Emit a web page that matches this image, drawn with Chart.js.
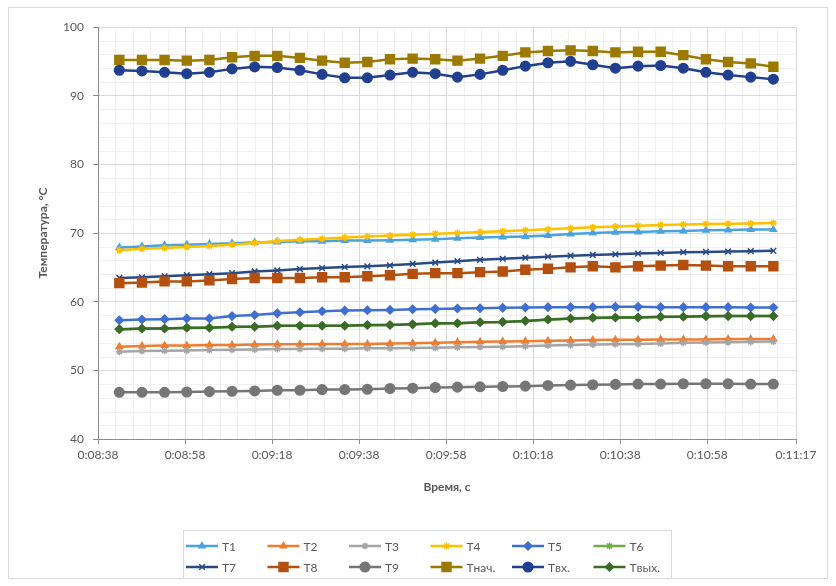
<!DOCTYPE html>
<html>
<head>
<meta charset="utf-8">
<script src="https://cdn.jsdelivr.net/npm/chart.js@4.4.0/dist/chart.umd.min.js"></script>
<style>
  html, body { margin: 0; padding: 0; background: #fff; }
</style>
</head>
<body>
<canvas id="line_chart" width="836" height="586"></canvas>
<script>
// time of each reading, seconds (0:08:42.9 ... 0:11:13.2)
let times = [522.9, 528.1, 533.3, 538.4, 543.6, 548.8, 554.0, 559.2, 564.4, 569.5,
             574.7, 579.9, 585.1, 590.3, 595.5, 600.6, 605.8, 611.0, 616.2, 621.4,
             626.6, 631.7, 636.9, 642.1, 647.3, 652.5, 657.7, 662.8, 668.0, 673.2];

let tickValues = [518, 538, 558, 578, 598, 618, 638, 658, 678.4];
let tickLabels = ['0:08:38', '0:08:58', '0:09:18', '0:09:38', '0:09:58', '0:10:18', '0:10:38', '0:10:58', '0:11:17'];

let t1 = [67.9, 68.05, 68.2, 68.3, 68.4, 68.5, 68.6, 68.7, 68.8, 68.8, 68.9, 68.9, 68.95, 69.0, 69.1,
          69.25, 69.35, 69.4, 69.5, 69.65, 69.85, 70.0, 70.1, 70.15, 70.25, 70.3, 70.4, 70.45, 70.5, 70.5];
let t2 = [53.45, 53.55, 53.6, 53.6, 53.7, 53.7, 53.75, 53.8, 53.8, 53.85, 53.85, 53.85, 53.9, 53.95, 54.0,
          54.1, 54.15, 54.2, 54.25, 54.3, 54.35, 54.4, 54.45, 54.45, 54.5, 54.5, 54.5, 54.55, 54.55, 54.55];
let t3 = [52.7, 52.8, 52.85, 52.9, 52.95, 53.0, 53.05, 53.1, 53.1, 53.15, 53.15, 53.2, 53.2, 53.25, 53.3,
          53.35, 53.4, 53.45, 53.5, 53.6, 53.7, 53.75, 53.8, 53.85, 53.9, 54.0, 54.05, 54.1, 54.15, 54.2];
let t4 = [67.5, 67.7, 67.8, 67.95, 68.1, 68.3, 68.55, 68.85, 69.0, 69.15, 69.35, 69.5, 69.65, 69.75, 69.9,
          70.0, 70.15, 70.25, 70.4, 70.55, 70.7, 70.85, 70.95, 71.05, 71.15, 71.25, 71.3, 71.35, 71.4, 71.45];
let t5 = [57.3, 57.4, 57.45, 57.55, 57.55, 57.9, 58.05, 58.3, 58.45, 58.6, 58.7, 58.75, 58.8, 58.9, 58.95,
          59.0, 59.05, 59.1, 59.15, 59.2, 59.2, 59.2, 59.25, 59.25, 59.2, 59.2, 59.2, 59.2, 59.15, 59.15];
let t6 = [55.95, 56.05, 56.1, 56.15, 56.2, 56.3, 56.35, 56.45, 56.5, 56.5, 56.5, 56.55, 56.6, 56.7, 56.8,
          56.85, 56.95, 57.05, 57.2, 57.35, 57.5, 57.6, 57.7, 57.7, 57.75, 57.8, 57.85, 57.9, 57.9, 57.9];
let t7 = [63.45, 63.55, 63.7, 63.85, 64.0, 64.15, 64.4, 64.55, 64.75, 64.9, 65.05, 65.15, 65.3, 65.5, 65.7,
          65.9, 66.1, 66.25, 66.4, 66.55, 66.7, 66.8, 66.9, 67.0, 67.1, 67.2, 67.25, 67.3, 67.35, 67.4];
let t8 = [62.7, 62.8, 62.95, 62.95, 63.1, 63.3, 63.45, 63.45, 63.45, 63.55, 63.55, 63.7, 63.85, 64.05, 64.15,
          64.15, 64.3, 64.4, 64.65, 64.8, 65.0, 65.15, 65.0, 65.15, 65.25, 65.35, 65.25, 65.15, 65.15, 65.15];
let t9 = [46.8, 46.8, 46.8, 46.85, 46.9, 46.95, 47.0, 47.1, 47.1, 47.2, 47.2, 47.25, 47.35, 47.4, 47.5,
          47.55, 47.6, 47.65, 47.7, 47.8, 47.85, 47.9, 47.95, 48.0, 48.0, 48.05, 48.05, 48.05, 48.0, 48.0];
let t_nach = [95.2, 95.2, 95.2, 95.1, 95.2, 95.6, 95.8, 95.8, 95.5, 95.1, 94.8, 94.9, 95.3, 95.4, 95.3,
              95.1, 95.4, 95.8, 96.3, 96.5, 96.6, 96.5, 96.3, 96.4, 96.4, 95.9, 95.3, 94.9, 94.7, 94.2];
let t_vh = [93.7, 93.6, 93.4, 93.2, 93.4, 93.9, 94.2, 94.1, 93.7, 93.1, 92.6, 92.6, 93.0, 93.4, 93.2,
            92.7, 93.1, 93.7, 94.3, 94.8, 95.0, 94.5, 94.0, 94.3, 94.4, 94.0, 93.4, 93.0, 92.7, 92.4];
let t_vyh = [56.0, 56.1, 56.1, 56.2, 56.2, 56.35, 56.35, 56.5, 56.5, 56.5, 56.5, 56.6, 56.6, 56.7, 56.85,
             56.85, 57.0, 57.05, 57.2, 57.4, 57.55, 57.65, 57.7, 57.7, 57.8, 57.8, 57.9, 57.9, 57.9, 57.9];

let seriesNames = ['T1', 'T2', 'T3', 'T4', 'T5', 'T6', 'T7', 'T8', 'T9', 'Tнач.', 'Tвх.', 'Tвых.'];
let seriesValues = [t1, t2, t3, t4, t5, t6, t7, t8, t9, t_nach, t_vh, t_vyh];
let seriesColors = ['#4aa3df', '#ed7d31', '#a5a5a5', '#ffc000', '#3f6fd0', '#70ad47',
                    '#2a4a86', '#b4500f', '#767676', '#9c7a00', '#213f8f', '#3a6b27'];
let seriesMarkers = ['triangle', 'triangle', 'star', 'star', 'rectRot', 'star',
                     'crossRot', 'rect', 'circle', 'rect', 'circle', 'rectRot'];
let markerSizes = [3.5, 3.5, 3.5, 3.5, 4, 3.5, 4, 6.3, 4.8, 6.3, 4.8, 4];

const FONT = 'Lato, "Liberation Sans", sans-serif';
const TEXT = '#595959';

// Excel draws later series on top; Chart.js draws lower `order` last
const datasets = seriesNames.map((name, i) => ({
    label: name,
    data: seriesValues[i].map((v, j) => ({ x: times[j], y: v })),
    borderColor: seriesColors[i],
    backgroundColor: seriesColors[i],
    pointBackgroundColor: seriesColors[i],
    pointBorderColor: seriesColors[i],
    pointStyle: seriesMarkers[i],
    pointRadius: markerSizes[i],
    pointBorderWidth: 1.5,
    borderWidth: 2.5,
    tension: 0,
    order: seriesNames.length - i
}));

// background, outer frame and minor gridlines
const excelFrame = {
    id: 'excelFrame',
    beforeDraw(chart) {
        const ctx = chart.ctx;
        const { left, right, top, bottom } = chart.chartArea;
        const xs = chart.scales.x, ys = chart.scales.y;
        ctx.save();
        ctx.fillStyle = '#fff';
        ctx.fillRect(0, 0, chart.width, chart.height);
        ctx.strokeStyle = '#d9d9d9';
        ctx.lineWidth = 1;
        ctx.strokeRect(8.5, 7.5, 819, 571);
        ctx.strokeStyle = '#f0f0f0';
        ctx.beginPath();
        for (let v = 42; v < 100; v += 2) {
            if (v % 10 === 0) continue;
            const y = Math.round(ys.getPixelForValue(v)) + 0.5;
            ctx.moveTo(left, y); ctx.lineTo(right, y);
        }
        for (let v = 522; v < 678; v += 4) {
            if ((v - 518) % 20 === 0) continue;
            const x = Math.round(xs.getPixelForValue(v)) + 0.5;
            ctx.moveTo(x, top); ctx.lineTo(x, bottom);
        }
        ctx.stroke();
        ctx.restore();
    }
};

// two-row legend box with line + marker samples, fixed columns like Excel
const excelLegend = {
    id: 'excelLegend',
    afterDraw(chart) {
        const ctx = chart.ctx;
        ctx.save();
        ctx.strokeStyle = '#d9d9d9';
        ctx.lineWidth = 1;
        ctx.strokeRect(183.5, 530.5, 488, 48);
        chart.data.datasets.forEach((ds, i) => {
            const col = i % 6, row = Math.floor(i / 6);
            const x0 = 186 + col * 81.5, y = 546 + row * 21;
            ctx.strokeStyle = ds.borderColor;
            ctx.lineWidth = 2.5;
            ctx.beginPath();
            ctx.moveTo(x0, y);
            ctx.lineTo(x0 + 32, y);
            ctx.stroke();
            ctx.fillStyle = ds.pointBackgroundColor;
            ctx.strokeStyle = ds.pointBorderColor;
            ctx.lineWidth = 1.5;
            Chart.helpers.drawPoint(ctx, {
                pointStyle: ds.pointStyle, rotation: 0,
                radius: ds.pointRadius, borderWidth: 1.5
            }, x0 + 16, y);
            ctx.fillStyle = TEXT;
            ctx.font = '12px ' + FONT;
            ctx.textBaseline = 'middle';
            ctx.textAlign = 'left';
            ctx.fillText(ds.label, x0 + 36, y + 1);
        });
        ctx.restore();
    }
};

var ctx = document.getElementById('line_chart').getContext('2d');
var line_chart = new Chart(ctx, {
    type: 'line',
    data: { datasets: datasets },
    plugins: [excelFrame, excelLegend],
    options: {
        responsive: false,
        animation: false,
        layout: { padding: { left: 10, top: 27, right: 40, bottom: 87 } },
        plugins: {
            legend: { display: false },
            tooltip: { enabled: false }
        },
        scales: {
            x: {
                type: 'linear',
                min: 518,
                max: 678.4,
                afterBuildTicks: scale => {
                    scale.ticks = tickValues.map(v => ({ value: v }));
                },
                afterFit: scale => { scale.height = 60; },
                ticks: {
                    autoSkip: false,
                    maxRotation: 0,
                    padding: 4,
                    color: TEXT,
                    font: { family: FONT, size: 12 },
                    callback: (value, index) => tickLabels[index]
                },
                grid: { color: '#d9d9d9', tickColor: '#8c8c8c', tickLength: 5 },
                border: { color: '#8c8c8c', width: 1 },
                title: {
                    display: true,
                    text: 'Время, с',
                    color: TEXT,
                    font: { family: FONT, size: 12, weight: 'bold' },
                    padding: { top: 0, bottom: 5 }
                }
            },
            y: {
                min: 40,
                max: 100,
                afterFit: scale => { scale.width = 88; },
                ticks: {
                    stepSize: 10,
                    padding: 9,
                    color: TEXT,
                    font: { family: FONT, size: 12 }
                },
                grid: { color: '#d9d9d9', tickColor: '#8c8c8c', tickLength: 5 },
                border: { color: '#8c8c8c', width: 1 },
                title: {
                    display: true,
                    text: 'Температура, °C',
                    color: TEXT,
                    font: { family: FONT, size: 12, weight: 'bold' },
                    padding: { top: 26, bottom: 0 }
                }
            }
        }
    }
});
</script>
</body>
</html>
